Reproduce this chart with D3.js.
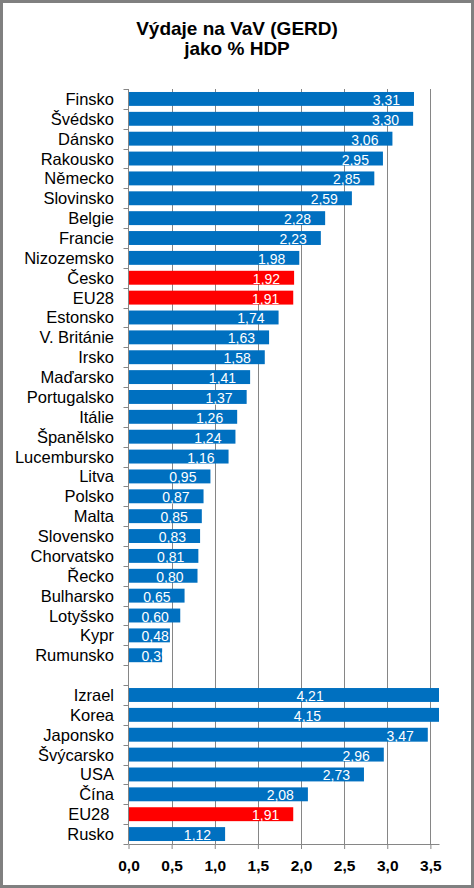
<!DOCTYPE html>
<html>
<head>
<meta charset="utf-8">
<script src="https://cdn.jsdelivr.net/npm/d3@7"></script>
<style>
  html, body { margin: 0; padding: 0; background: #fff; }
  svg { display: block; font-family: "Liberation Sans", Arial, sans-serif; }
  .cat { white-space: pre; }
</style>
</head>
<body>
<svg id="chart" width="474" height="888"></svg>
<script>
// ---- data ----
const titleLines = ["Výdaje na VaV (GERD)", "jako % HDP"];
const categories = [
  "Finsko","Švédsko","Dánsko","Rakousko","Německo","Slovinsko","Belgie","Francie",
  "Nizozemsko","Česko","EU28","Estonsko","V. Británie","Irsko","Maďarsko","Portugalsko",
  "Itálie","Španělsko","Lucembursko","Litva","Polsko","Malta","Slovensko","Chorvatsko",
  "Řecko","Bulharsko","Lotyšsko","Kypr","Rumunsko","",
  "Izrael","Korea","Japonsko","Švýcarsko","USA","Čína","EU28 ","Rusko"
];
const values = [
  3.31,3.30,3.06,2.95,2.85,2.59,2.28,2.23,
  1.98,1.92,1.91,1.74,1.63,1.58,1.41,1.37,
  1.26,1.24,1.16,0.95,0.87,0.85,0.83,0.81,
  0.80,0.65,0.60,0.48,0.39,null,
  4.21,4.15,3.47,2.96,2.73,2.08,1.91,1.12
];
const highlighted = ["Česko","EU28","EU28 "];
const xTicks = [0,0.5,1,1.5,2,2.5,3,3.5];
const xMax = 3.6;

const colors = { bar: "#0070C0", highlight: "#FF0000", grid: "#868686", border: "#808080" };

const svg = d3.select("#chart");
const W = 474, H = 888;
const plot = { left: 128.5, right: 439, top: 89, bottom: 844 };

// border
svg.append("rect").attr("x", 1.5).attr("y", 1.5).attr("width", W - 3).attr("height", H - 3)
  .attr("fill", "#fff").attr("stroke", colors.border).attr("stroke-width", 3);

// title
svg.append("text").attr("x", 237).attr("y", 35).attr("text-anchor", "middle")
  .attr("font-size", 19).attr("font-weight", "bold").attr("fill", "#000")
  .selectAll("tspan").data(titleLines).join("tspan")
  .attr("x", 237).attr("dy", (d, i) => i === 0 ? 0 : 20).text(d => d);

const x = d3.scaleLinear().domain([0, xMax]).range([plot.left, plot.right]);
const y = d3.scaleBand().domain(categories).range([plot.top, plot.bottom])
  .paddingInner(0.3).paddingOuter(0.15);

// gridlines
svg.append("g").selectAll("line").data(xTicks.filter(d => d > 0)).join("line")
  .attr("x1", d => Math.round(x(d)) + 0.5).attr("x2", d => Math.round(x(d)) + 0.5)
  .attr("y1", plot.top).attr("y2", plot.bottom)
  .attr("stroke", colors.grid).attr("stroke-width", 1);

// bars
const data = categories.map((c, i) => ({ c, v: values[i] })).filter(d => d.v != null);
const bars = svg.append("g");
bars.selectAll("rect").data(data).join("rect")
  .attr("x", x(0))
  .attr("y", d => y(d.c))
  .attr("height", y.bandwidth())
  .attr("width", d => x(Math.min(d.v, xMax)) - x(0))
  .attr("fill", d => highlighted.includes(d.c) ? colors.highlight : colors.bar);

// value labels
const fmt = v => d3.format(".2f")(v).replace(".", ",");
const lbl = svg.append("g").attr("font-size", 14).attr("fill", "#fff");
lbl.selectAll("text").data(data).join("text")
  .text(d => fmt(d.v))
  .attr("y", d => y(d.c) + y.bandwidth() / 2 + 6)
  .each(function (d) {
    const w = this.getComputedTextLength();
    let xs;
    if (d.v > xMax) {
      xs = x(d.v / 2) - w / 2;
    } else {
      xs = Math.max(x(d.v) - 14 - w, x(0) + 13);
    }
    d3.select(this).attr("x", xs);
  });

// category axis line and ticks
const ax = svg.append("g").attr("stroke", colors.grid).attr("stroke-width", 1);
ax.append("line").attr("x1", plot.left).attr("x2", plot.left)
  .attr("y1", plot.top).attr("y2", plot.bottom);
const bounds = d3.range(categories.length + 1).map(i => plot.top + i * (plot.bottom - plot.top) / categories.length);
ax.selectAll("line.t").data(bounds).join("line").attr("class", "t")
  .attr("x1", plot.left - 5).attr("x2", plot.left)
  .attr("y1", d => Math.round(d) + 0.5).attr("y2", d => Math.round(d) + 0.5);

// category labels
svg.append("g").attr("font-size", 16.5).attr("fill", "#000").attr("text-anchor", "end")
  .selectAll("text").data(categories).join("text").attr("class", "cat")
  .attr("x", 114).attr("y", d => y(d) + y.bandwidth() / 2 + 6)
  .text(d => d);

// x axis
const xAxis = svg.append("g").attr("transform", `translate(0,${plot.bottom})`)
  .call(d3.axisBottom(x).tickValues(xTicks).tickSize(5).tickSizeOuter(0)
    .tickFormat(d => d3.format(".1f")(d).replace(".", ",")));
xAxis.select(".domain").attr("stroke", colors.grid);
xAxis.selectAll(".tick line").attr("stroke", colors.grid);
xAxis.selectAll(".tick text").attr("font-size", 15.5).attr("font-weight", "bold")
  .attr("fill", "#000").attr("font-family", '"Liberation Sans", Arial, sans-serif')
  .attr("dy", 0).attr("y", 27);
</script>
</body>
</html>
